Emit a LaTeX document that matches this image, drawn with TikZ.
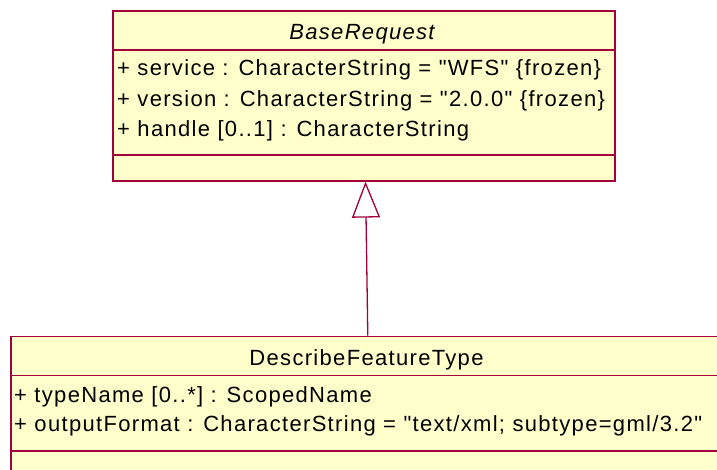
\documentclass[tikz,border=0pt]{standalone}
\usepackage{fontspec}
\newfontfamily\umlfamily{Liberation Sans}[LetterSpace=6]
\usetikzlibrary{calc,arrows.meta}
\definecolor{umlred}{RGB}{163,0,58}
\definecolor{umlyellow}{RGB}{255,255,204}
\newcommand{\umlfont}{\umlfamily\fontsize{22}{26}\selectfont}

\begin{document}
\begin{tikzpicture}[x=1pt,y=-1pt,
  umlclass/.style={draw=umlred,fill=umlyellow,line width=1.6pt,inner sep=0pt,anchor=north west},
  compart/.style={draw=umlred,line width=1.6pt},
  attrtext/.style={anchor=base west,inner sep=0pt,font=\umlfont},
  classname/.style={anchor=base,inner sep=0pt,font=\umlfont},
  inherit/.style={draw=umlred,line width=1.3pt,-{Triangle[open,length=36pt,width=28pt]}}]
\useasboundingbox (0,0) rectangle (717,470);
\clip (0,0) rectangle (717,470);

% BaseRequest
\node[umlclass,minimum width=502pt,minimum height=170pt] (base) at (112,10) {};
\draw[compart] (112,50) -- (614,50);
\draw[compart] (112,155) -- (614,155);
\node[classname] (basename) at (362,40) {\itshape BaseRequest};
\node[attrtext] (service) at (117,76) {+ service : CharacterString = "WFS" \{frozen\}};
\node[attrtext] (version) at (117,106.5) {+ version : CharacterString = "2.0.0" \{frozen\}};
\node[attrtext] (handle) at (117,137) {+ handle [0..1] : CharacterString};

% DescribeFeatureType (runs off the page)
\node[umlclass,minimum width=720pt,minimum height=150pt] (dft) at (10,335.5) {};
\draw[compart] (10,375.5) -- (730,375.5);
\draw[compart] (10,451) -- (730,451);
\node[classname] (dftname) at (366.5,365.5) {DescribeFeatureType};
\node[attrtext] (typename) at (14,402.5) {+ typeName [0..*] : ScopedName};
\node[attrtext] (outformat) at (14,431.5) {+ outputFormat : CharacterString = "text/xml; subtype=gml/3.2"};

% generalisation
\coordinate (genfoot) at ($(dft.north)+(-3,0)$);
\coordinate (genhead) at ($(base.south)+(1.7,0)$);
\draw[inherit] (genfoot) -- (genhead);
\end{tikzpicture}
\end{document}
